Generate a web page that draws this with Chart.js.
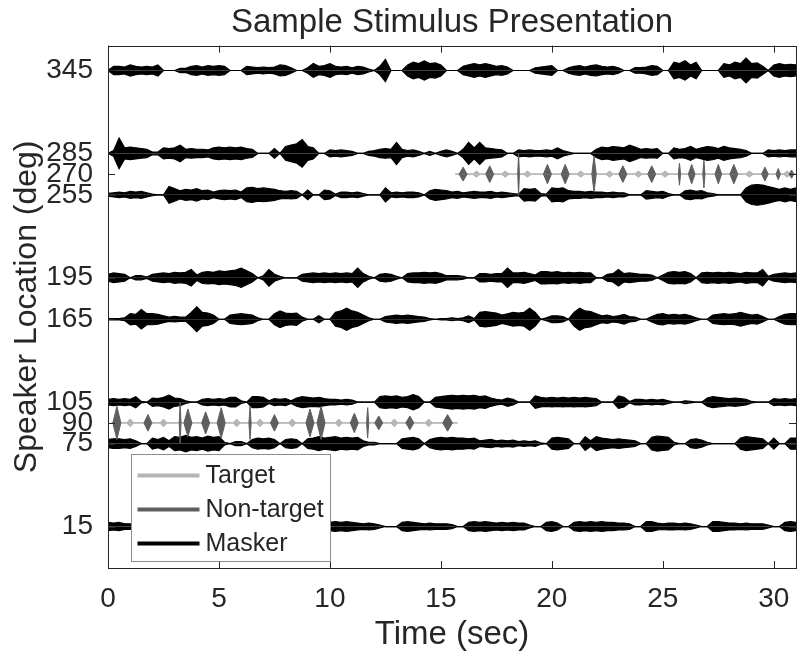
<!DOCTYPE html>
<html>
<head>
<meta charset="utf-8">
<script src="https://cdn.jsdelivr.net/npm/chart.js@4.4.1/dist/chart.umd.min.js"></script>
<style>
  html, body { margin: 0; padding: 0; background: #fff; }
</style>
</head>
<body>
<canvas id="stim" width="809" height="665"></canvas>
<script>
// Envelope half-heights (deg) of each masker, read every 0.25 s from 0 to 31 s
const BIN = 0.25;
const masker345 = [0,3,3,2.5,4,3,2.5,3,2.5,4, 0,0,0,1.5,1.5,3,3.5,2.5,3.5,3, 3.5,3,0,0,0,3,2.5,2,2.5,2,
  2.5,4,3.5,2,0,0,2,5,3,3.5, 5,3,2.5,3,2,3,2.5,1,0,3, 8,0,0,0,4,6,5,7,5,5.5,
  4,0,0,0,3,4,5,4,5,4, 3,3.5,2.5,0,0,0,0,2,2.5,3, 3.5,0,0,2,3,3.5,2.5,3.5,4,3,
  2.5,3,2,0,0,2,2,2.5,3.5,3, 0,0,6,5,7,4,6,0,0,0, 0,5,4,6,5,9,5,5.5,3,0, 4,5,4,4.5,4];
const masker285 = [0,2,11,4,4.5,4,3.5,3,1,1, 4,3.5,4,6,3,3.5,3,3,2.5,4, 4.5,4,4.5,4,4.5,3.5,3,0,0,0,
  3.5,0,5,6,7,10,5,4,0,0, 2.5,2,2.5,2,1.5,0,0,1.5,2,3, 3.5,3,8,3,2,2.5,1.5,0,1.5,0,
  1.5,2.5,1.5,0,3,8,4,8,4,3.5, 3,2.5,0,0,2.5,2,2.5,2,2,2.5, 2,4,2,1,0,0,0,0,3,4.5,
  4,5,4.5,4,6,4.5,3,3.5,3,3.5, 0,0,4,3,3.5,5,3,4,5,4.5, 3.5,5,4,3.5,3,2,0,0,0,2.5, 2,2.5,2,2.5,2.5];
const masker255 = [1,1.5,2,1.5,2.5,2,2.5,1.5,0.5,0, 0,6,4.5,3,4,3.5,4.5,3,3.5,2, 3,3.5,3,3.5,2,5,5.5,4.5,5,4.5,
  4,3,2.5,3,2.5,0,3.5,0,0,3.5, 3,0.5,2,2,1.5,2,1,0,0,0, 5,1.5,2,1.5,2,2,1.5,0,3,4,
  3.5,3,2,2.5,1.5,2,2.5,2,2,2.5, 1.5,2,1.5,1,0.5,4.5,4,4.5,1,0.5, 5,4.5,5,3,2.5,2.5,2,2.5,2,2,
  1.5,2,1.5,1.5,0,0,0,3,2.5,2, 2.5,1,0,0,3,3.5,2.5,3,1.5,1, 0,0,0,0,0,5,7,7.5,7,6, 5,4,5,4,5];
const masker195 = [2.5,3.5,3,2.5,0,1.5,1.5,0.5,2.5,3, 3.5,3,4,3.5,4,6,2,4,4.5,4, 5,4.5,5,5.5,7,5,3,0,1.5,6,
  2.5,1,0,0,0,2.5,3,3.5,3,3.5, 3,3.5,3,3.5,3,7,3,1,0,2.5, 3,2.5,1,0,3,3.5,3.5,4,3.5,4,
  3,1.5,1.5,1.5,1,0,0,3,3,2.5, 3,3,7,3.5,3.5,4,3,2,4.5,4.5, 4,4.5,3.5,4,3.5,4,3.5,3.5,0,0,
  2.5,3,6,3,3.5,3,2.5,2.5,2,0, 2,4,4.5,4,4.5,3,0,3.5,4,3.5, 4,3.5,4,3.5,3,4,3.5,3.5,6,1, 2.5,3,3.5,3,3.5];
const masker165 = [0.5,0.5,0.5,1,4,3.5,7,4,4,3.5, 2.5,1.5,2,1.5,1.5,5,9,5,4.5,3, 0,0,3,3.5,4,3.5,3,1,0,0,
  4,6,4.5,4,4.5,1.5,0,0,2.5,0, 0,5,6,8,6,5,3,1,0,0, 2,2.5,3,2.5,3,2.5,2,1.5,0.5,0,
  0.5,0.5,1,0.5,1,2.5,0.5,5,5.5,5, 4.5,3,4,5,4.5,5,8,5,0,1, 2.5,2.5,2,0,5,8,6,5.5,4,2.5,
  3,2,2.5,3.5,2,1.5,0,0,2,3.5, 4,3,3.5,3,3.5,2.5,1,0,0,3, 3.5,4,3.5,4,5,4,3,3.5,2,0, 0,2,3.5,4,4];
const masker105 = [2,2.5,2,2.5,2,4,0.5,0,3,2.5, 3.5,5,3,2.5,1,0,0,2,2.5,2, 2.5,2,3.5,3.5,1,0,4,4,3.5,1,
  2.5,2,2.5,1,3,4,3.5,3,3.5,2.5, 2,2,1.5,2,1.5,0,0,0,0,4, 4.5,4,4.5,3.5,4,5.5,4,0,0,3.5,
  4,4.5,5,4.5,5,4.5,5,4,4.5,3, 2,1.5,3,2,0,0,0,4.5,3.5,3, 3.5,3,3.5,3,3.5,3,3.5,3,2.5,0,
  0,0,4.5,3.5,0.5,2,2,1.5,2,1.5, 2,1,0,0,1,0.5,0,0,3,4, 3.5,3,2.5,3,2.5,2,0.5,0,0,0, 2.5,2,2.5,2,2.5];
const masker75 = [3,3.5,3.5,3,3.5,2,0,0,4,3, 4.5,2,5,4.5,6,4.5,5,4,5.5,4.5, 5,1,0,1.5,1.5,0,3,4,3.5,4,
  3,0,3,3.5,3,0,3.5,4,5,4, 4.5,5,4,4.5,4,4.5,2,1,1,0, 0,0,0,3.5,4,4.5,3.5,0,3,4,
  4.5,4,4.5,4,4,3.5,4,2,2.5,3, 2,2.5,2,2.5,1.5,2,1.5,2,0.5,0, 4,4.5,4,3.5,0,0,5,2,5,4,
  3.5,3,3.5,3,2.5,2,0,0,4.5,5.5, 5,4.5,1,0,0,3,3.5,2.5,1,0, 0,0,0,0,4,5,4.5,4,3.5,0, 4,0,0,4,4];
const masker15 = [3,2.5,3,2,2,0,0,0,0,0, 0,0,0,0,0,0,0,0,0,0, 0,0,0,0,0,0,0,0,0,0,
  0,0,0,0,0,0,0,0,0,0, 3,3.5,3,3.5,3,2.5,2,2.5,2,1, 0,0,0,3,3.5,3,2.5,2,2.5,2,
  2,2,1.5,0,0,3,3.5,3,3.5,3, 2.5,3,2.5,3,2.5,2.5,1,0,0,3, 3.5,2.5,0,0,3,3.5,3,3.5,3,3.5,
  3,3,2.5,2.5,2,0,0,3.5,3.5,2.5, 2,2.5,2.5,2,2.5,2,1,0,0,3.5, 3.5,3,2.5,2.5,2,2.5,2,2,2,1, 0,0,3,3.5,3];

// Target / non-target pips: centre time (s), peak half-height (deg), half-duration (s)
const target90Span = [0.15, 15.75];
const target90Times = [1.0, 2.5, 5.8, 6.85, 8.3, 10.4, 12.9, 14.45];
const target90Amps = [2.5, 2.5, 2.5, 2.5, 2.5, 2.5, 2.5, 2.5];
const nonTarget90Times = [0.4, 1.8, 3.25, 3.6, 4.4, 5.1, 6.4, 7.5, 9.1, 9.6, 11.1, 11.7, 12.2, 13.6, 15.3];
const nonTarget90Amps = [12, 6, 15, 10, 8, 11, 12, 6, 10, 12, 7, 11, 5, 5, 6];
const nonTarget90Half = [0.18, 0.18, 0.04, 0.18, 0.18, 0.18, 0.05, 0.18, 0.18, 0.18, 0.18, 0.05, 0.18, 0.18, 0.22];

const target270Span = [15.65, 31];
const target270Times = [16.6, 17.9, 18.9, 21.3, 22.6, 23.9, 25.1, 28.9, 30.6];
const target270Amps = [2, 2, 2, 2, 2, 2, 2, 2, 2];
const nonTarget270Times = [16.0, 17.2, 18.5, 19.8, 20.6, 21.9, 23.2, 24.5, 25.75, 26.3, 26.85, 27.5, 28.2, 29.6, 30.2, 30.8];
const nonTarget270Amps = [5, 6, 15, 7, 7, 13, 6, 6, 8, 7, 10, 7, 7, 5, 4, 3];
const nonTarget270Half = [0.18, 0.18, 0.04, 0.18, 0.18, 0.1, 0.18, 0.18, 0.05, 0.15, 0.05, 0.15, 0.18, 0.15, 0.1, 0.1];

const yTickValues = [15, 75, 90, 105, 165, 195, 255, 270, 285, 345];
const legendItems = [
  { label: 'Target', color: '#b5b5b5' },
  { label: 'Non-target', color: '#5e5e5e' },
  { label: 'Masker', color: '#000000' },
];

const TARGET = '#b5b5b5';
const NONTARGET = '#5e5e5e';
const MASKER = '#000000';
const FONT = '"Liberation Sans", Arial, Helvetica, sans-serif';
const TEXT = '#262626';

const maskerTracks = [
  [345, masker345], [285, masker285], [255, masker255], [195, masker195],
  [165, masker165], [105, masker105], [75, masker75], [15, masker15],
];

function envelope(loc, amps, sign) {
  return amps.map((a, i) => ({ x: i * BIN, y: loc + sign * a }));
}

function pips(loc, times, amps, half, sign, span) {
  const pts = [];
  if (span) pts.push({ x: span[0], y: loc });
  times.forEach((t, i) => {
    const w = half ? half[i] : 0.15;
    pts.push({ x: t - w, y: loc });
    pts.push({ x: t, y: loc + sign * amps[i] });
    pts.push({ x: t + w, y: loc });
    if (!span) pts.push({ x: t + w + 0.01, y: null });
  });
  if (span) pts.push({ x: span[1], y: loc });
  return pts;
}

function band(points, loc, color, width) {
  return {
    data: points,
    borderColor: color,
    backgroundColor: color,
    borderWidth: width,
    pointRadius: 0,
    tension: 0,
    spanGaps: false,
    fill: { value: loc },
  };
}

const datasets = [];
// non-targets on top, then targets, then maskers (first dataset is drawn last)
[[90, nonTarget90Times, nonTarget90Amps, nonTarget90Half], [270, nonTarget270Times, nonTarget270Amps, nonTarget270Half]]
  .forEach(([loc, t, a, h]) => {
    datasets.push(band(pips(loc, t, a, h, 1), loc, NONTARGET, 1));
    datasets.push(band(pips(loc, t, a, h, -1), loc, NONTARGET, 1));
  });
[[90, target90Times, target90Amps, target90Span], [270, target270Times, target270Amps, target270Span]]
  .forEach(([loc, t, a, span]) => {
    datasets.push(band(pips(loc, t, a, null, 1, span), loc, TARGET, 1.4));
    datasets.push(band(pips(loc, t, a, null, -1, span), loc, TARGET, 1.4));
  });
maskerTracks.forEach(([loc, amps]) => {
  datasets.push(band(envelope(loc, amps, 1), loc, MASKER, 1.2));
  datasets.push(band(envelope(loc, amps, -1), loc, MASKER, 1.2));
});

// axes box, inward ticks and the legend
const framePlugin = {
  id: 'frame',
  afterDatasetsDraw(chart) {
    const { ctx, chartArea: a, scales: { x, y } } = chart;
    ctx.save();
    ctx.strokeStyle = TEXT;
    ctx.lineWidth = 1;
    ctx.beginPath();
    x.ticks.forEach(t => {
      const px = Math.round(x.getPixelForValue(t.value)) + 0.5;
      ctx.moveTo(px, a.bottom); ctx.lineTo(px, a.bottom - 7);
      ctx.moveTo(px, a.top); ctx.lineTo(px, a.top + 7);
    });
    y.ticks.forEach(t => {
      const py = Math.round(y.getPixelForValue(t.value)) + 0.5;
      ctx.moveTo(a.left, py); ctx.lineTo(a.left + 7, py);
      ctx.moveTo(a.right, py); ctx.lineTo(a.right - 7, py);
    });
    ctx.stroke();
    ctx.strokeRect(Math.round(a.left) + 0.5, Math.round(a.top) + 0.5,
      Math.round(a.right - a.left), Math.round(a.bottom - a.top));

    const bx = Math.round(a.left) + 23.5, by = Math.round(a.bottom) - 113.5;
    ctx.fillStyle = '#ffffff';
    ctx.fillRect(bx, by, 199, 107);
    ctx.strokeStyle = '#8c8c8c';
    ctx.strokeRect(bx, by, 199, 107);
    ctx.font = '25px ' + FONT;
    ctx.textBaseline = 'middle';
    legendItems.forEach((item, i) => {
      const ly = by + 21 + i * 34;
      ctx.strokeStyle = item.color;
      ctx.lineWidth = 4;
      ctx.beginPath();
      ctx.moveTo(bx + 6, ly); ctx.lineTo(bx + 68, ly);
      ctx.stroke();
      ctx.fillStyle = TEXT;
      ctx.fillText(item.label, bx + 74, ly + 1);
    });
    ctx.restore();
  }
};

new Chart(document.getElementById('stim'), {
  type: 'line',
  data: { datasets },
  plugins: [framePlugin],
  options: {
    responsive: false,
    animation: false,
    layout: { padding: { left: 0, right: 13, top: 0, bottom: 10 } },
    plugins: {
      legend: { display: false },
      tooltip: { enabled: false },
      title: {
        display: true,
        text: 'Sample Stimulus Presentation',
        fullSize: false,
        color: TEXT,
        font: { family: FONT, size: 33, weight: 'normal' },
        padding: { top: 3, bottom: 3 },
      },
    },
    scales: {
      x: {
        type: 'linear',
        min: 0,
        max: 31,
        grid: { display: false },
        border: { display: false },
        ticks: { stepSize: 5, includeBounds: false, color: TEXT, padding: 6, font: { family: FONT, size: 28 } },
        title: { display: true, text: 'Time (sec)', color: TEXT, padding: 0, font: { family: FONT, size: 33 } },
        afterFit(scale) { scale.height = 87; },
      },
      y: {
        type: 'linear',
        min: -15,
        max: 363,
        grid: { display: false },
        border: { display: false },
        afterBuildTicks(scale) { scale.ticks = yTickValues.map(v => ({ value: v })); },
        ticks: { autoSkip: false, color: TEXT, padding: 7, font: { family: FONT, size: 28 } },
        title: { display: true, text: 'Speaker Location (deg)', color: TEXT, padding: { top: 8, bottom: 0 }, font: { family: FONT, size: 32 } },
        afterFit(scale) { scale.width = 108; },
      },
    },
  },
});
</script>
</body>
</html>
